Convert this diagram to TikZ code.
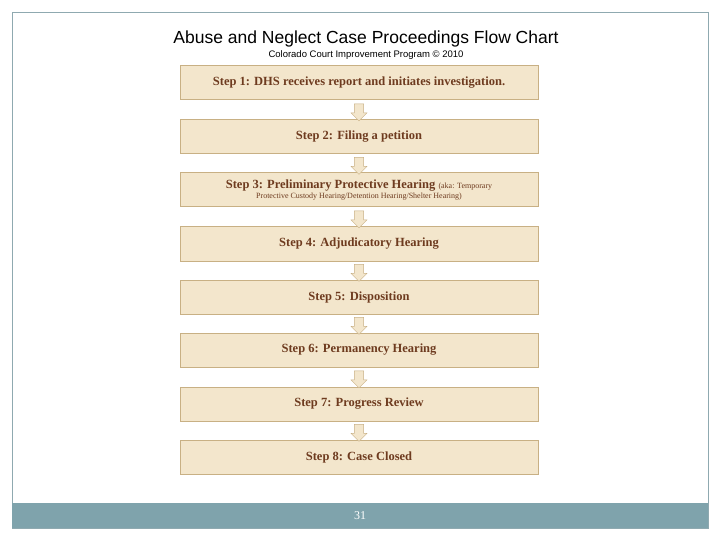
\documentclass[tikz,border=0pt]{standalone}
\usepackage{fontspec}
\setmainfont{Liberation Serif}
\setsansfont{Liberation Sans}
\usetikzlibrary{shapes.arrows,calc}
\definecolor{boxfill}{HTML}{F3E6CC}
\definecolor{boxline}{HTML}{C8B084}
\definecolor{steptext}{HTML}{6E3B1F}
\definecolor{barcol}{HTML}{7FA3AC}
\definecolor{framecol}{HTML}{8FA9B0}
\tikzset{
 stepbox/.style={draw=boxline,fill=boxfill,line width=1pt,minimum width=358pt,minimum height=34pt,align=center,font=\bfseries\fontsize{12.5}{13}\selectfont,text=steptext},
 arr/.style={single arrow,shape border rotate=270,draw=boxline,fill=boxfill,minimum height=17pt,minimum width=16pt,single arrow head extend=3pt,inner xsep=4pt,inner ysep=0pt}
}
\begin{document}
\begin{tikzpicture}[x=1pt,y=-1pt]
\useasboundingbox (0,0) rectangle (720,540);
\fill[white] (0,0) rectangle (720,540);
\draw[framecol,line width=0.8pt] (12,12) rectangle (708,528);
\fill[barcol] (12,503) rectangle (708,528);
\node[font=\sffamily\fontsize{17.5}{20}\selectfont] (title) at (366,39) {Abuse and Neglect Case Proceedings Flow Chart};
\node[font=\sffamily\fontsize{9.5}{11}\selectfont] (sub) at (366,55) {Colorado Court Improvement Program \copyright\ 2010};
\node[font=\large,text=white] (pg) at (360,516) {31};
\foreach \i/\y/\t in {1/83/{Step 1: DHS receives report and initiates investigation.},
 2/137/{Step 2: Filing a petition},
 3/190/{Step 3: Preliminary Protective Hearing {\mdseries\footnotesize(aka: Temporary}\\[-3pt]{\mdseries\footnotesize Protective Custody Hearing/Detention Hearing/Shelter Hearing)}},
 4/244/{Step 4: Adjudicatory Hearing},
 5/297/{Step 5: Disposition},
 6/350/{Step 6: Permanency Hearing},
 7/404/{Step 7: Progress Review},
 8/457/{Step 8: Case Closed}}
 \node[stepbox] (s\i) at (359,\y) {\t};
\foreach \a/\b in {1/2,2/3,3/4,4/5,5/6,6/7,7/8}
 \node[arr] (a\a) at ($(s\a.south)!0.5!(s\b.north)$) {};
\end{tikzpicture}
\end{document}
